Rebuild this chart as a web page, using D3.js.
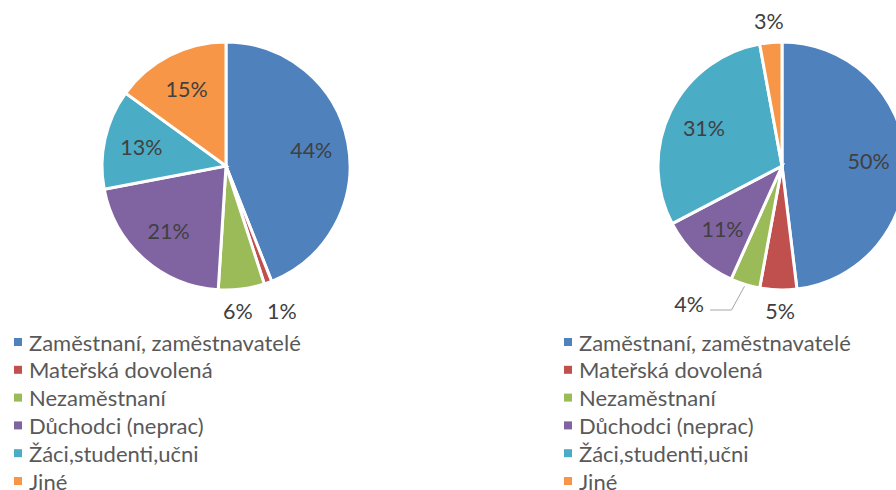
<!DOCTYPE html>
<html>
<head>
<meta charset="utf-8">
<script src="https://cdn.jsdelivr.net/npm/d3@7"></script>
<style>
  body { margin: 0; background: #fff; }
  svg text { font-family: Lato, "Open Sans", sans-serif; }
</style>
</head>
<body>
<div class="chart"></div>
<script>
var w = 896;
var h = 490;

// data
var categories = ["Zaměstnaní, zaměstnavatelé", "Mateřská dovolená", "Nezaměstnaní",
                  "Důchodci (neprac)", "Žáci,studenti,učni", "Jiné"];
var leftValues = [44, 1, 6, 21, 13, 15];
var rightValues = [50, 5, 4, 11, 31, 3];
var colors = ["#4F81BD", "#C0504D", "#9BBB59", "#8064A2", "#4BACC6", "#F79646"];

var svg = d3.select(".chart")
            .append("svg")
            .attr("width", w)
            .attr("height", h);

var color = d3.scaleOrdinal().domain(categories).range(colors);
var r = 124;

function drawPie(values, cx, cy, legendX, nudge) {
  var total = d3.sum(values);
  var data = values.map(function(v, i) { return {name: categories[i], value: v}; });
  var pie = d3.pie().sort(null).value(function(d) { return d.value; });
  var arc = d3.arc().innerRadius(0).outerRadius(r);
  var arcs = pie(data);

  var g = svg.append("g").attr("transform", "translate(" + cx + "," + cy + ")");

  g.selectAll("path")
   .data(arcs)
   .enter()
   .append("path")
   .attr("d", arc)
   .style("fill", (d) => color(d.data.name))
   .style("stroke", "#fff")
   .style("stroke-width", 3)
   .style("stroke-linejoin", "miter");

  // labels: inside for big slices, outside for small ones
  var labels = arcs.map(function(d, i) {
    var a = (d.startAngle + d.endAngle) / 2;
    var share = d.value / total;
    var inside = share > 0.065;
    var rr = inside ? r * 0.7 : r + 22;
    var x = Math.sin(a) * rr, y = -Math.cos(a) * rr;
    return {i: i, a: a, inside: inside, x: x, y: y, text: d.value + "%"};
  });

  // outside labels under the pie sit on one row, pushed apart
  var bottom = labels.filter((l) => !l.inside && Math.cos(l.a) < 0);
  if (bottom.length) {
    var rowY = r + 21;
    bottom.forEach((l) => { l.y = rowY; });
    bottom.sort((a, b) => a.x - b.x);
    for (var k = 1; k < bottom.length; k++) {
      var gap = bottom[k].x - bottom[k - 1].x;
      if (gap < 44) {
        var m = (bottom[k].x + bottom[k - 1].x) / 2;
        bottom[k - 1].x = m - 22;
        bottom[k].x = m + 22;
      }
    }
  }

  labels.forEach(function(l) {
    if (nudge[l.i]) {
      var ax = Math.sin(l.a) * (r + 2), ay = -Math.cos(l.a) * (r + 2);
      l.x += nudge[l.i][0];
      l.y += nudge[l.i][1];
      g.append("polyline")
       .attr("points", [[ax, ay], [ax - 13, l.y + 6], [l.x + 21, l.y + 6]].map((p) => p.join(",")).join(" "))
       .style("fill", "none")
       .style("stroke", "#a6a6a6")
       .style("stroke-width", 1);
    }
  });

  g.selectAll("text.lbl")
   .data(labels)
   .enter()
   .append("text")
   .attr("class", "lbl")
   .attr("x", (d) => d.x)
   .attr("y", (d) => d.y)
   .attr("text-anchor", "middle")
   .attr("dominant-baseline", "central")
   .style("font-size", "21.5px")
   .style("fill", "#404040")
   .text((d) => d.text);

  // legend
  var lg = svg.append("g").attr("transform", "translate(" + legendX + ",342)");
  var row = lg.selectAll("g")
   .data(categories)
   .enter()
   .append("g")
   .attr("transform", (d, i) => "translate(0," + (i * 27.8) + ")");
  row.append("rect")
     .attr("x", 0).attr("y", -4)
     .attr("width", 8).attr("height", 8)
     .style("fill", (d) => color(d));
  row.append("text")
     .attr("x", 15)
     .attr("y", 0)
     .attr("dominant-baseline", "central")
     .style("font-size", "22px")
     .style("fill", "#595959")
     .text((d) => d);
}

drawPie(leftValues, 226, 166, 14, {});
drawPie(rightValues, 782, 166, 564, {2: [-47, -7]});
</script>
</body>
</html>
